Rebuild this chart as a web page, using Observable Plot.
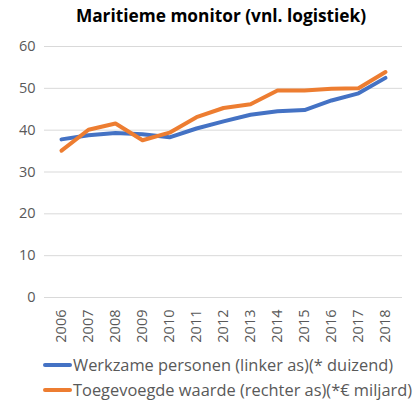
<!DOCTYPE html>
<html>
<head>
<meta charset="utf-8">
<script src="https://cdn.jsdelivr.net/npm/d3@7"></script>
<script src="https://cdn.jsdelivr.net/npm/@observablehq/plot@0.6"></script>
<style>
  html, body { margin: 0; padding: 0; background: #fff; }
  #wrap { position: relative; width: 418px; height: 401px; overflow: hidden; font-family: "Open Sans", sans-serif; }
  #title { position: absolute; top: 4px; left: 12px; width: 418px; text-align: center; font-weight: bold; font-size: 17.3px; color: #000; }
  #chart { position: absolute; top: 32px; left: 0; }
  #legend { position: absolute; top: 352px; left: 43px; font-size: 16.4px; color: #595959; }
  .row { display: flex; align-items: center; height: 25px; white-space: nowrap; }
  .sw { width: 29px; height: 4px; border-radius: 2px; margin-right: 1px; }
</style>
</head>
<body>
<div id="wrap">
  <div id="title"></div>
  <div id="chart"></div>
  <div id="legend"></div>
</div>
<script>
const titleText = "Maritieme monitor (vnl. logistiek)";
const years = ["2006","2007","2008","2009","2010","2011","2012","2013","2014","2015","2016","2017","2018"];
const yTicks = [0, 10, 20, 30, 40, 50, 60];
const seriesNames = ["Werkzame personen (linker as)(* duizend)", "Toegevoegde waarde (rechter as)(*€ miljard)"];
const seriesColors = ["#4472C4", "#ED7D31"];
const werkzame = [37.8, 38.8, 39.3, 39.0, 38.3, 40.4, 42.1, 43.7, 44.5, 44.8, 47.1, 48.8, 52.5];
const toegevoegd = [35.1, 40.1, 41.6, 37.6, 39.4, 43.1, 45.3, 46.2, 49.5, 49.5, 49.9, 50.0, 53.9];

document.getElementById("title").textContent = titleText;

const seriesValues = [werkzame, toegevoegd];

const chart = Plot.plot({
  width: 418,
  height: 315,
  marginTop: 14,
  marginLeft: 44,
  marginRight: 16,
  marginBottom: 50,
  style: { fontSize: "14.5px", fontFamily: "'Open Sans', sans-serif", color: "#595959", background: "transparent" },
  x: { type: "point", domain: years, padding: 0.5, label: null },
  y: { domain: [0, 60], label: null },
  marks: [
    Plot.gridY(yTicks, { stroke: "#d9d9d9", strokeOpacity: 1, strokeWidth: 1 }),
    Plot.axisY(yTicks, { tickSize: 0, tickPadding: 9, label: null }),
    Plot.axisX({ tickSize: 0, tickPadding: 12, tickRotate: -90, label: null }),
    ...seriesValues.map((vals, k) =>
      Plot.lineY(vals, {
        x: (d, i) => years[i],
        y: d => d,
        stroke: seriesColors[k],
        strokeWidth: 4,
        strokeLinejoin: "round",
        strokeLinecap: "round"
      })
    )
  ]
});
document.getElementById("chart").appendChild(chart);

const legend = document.getElementById("legend");
seriesNames.forEach((name, k) => {
  const row = document.createElement("div");
  row.className = "row";
  const sw = document.createElement("div");
  sw.className = "sw";
  sw.style.background = seriesColors[k];
  const t = document.createElement("span");
  t.textContent = name;
  row.appendChild(sw);
  row.appendChild(t);
  legend.appendChild(row);
});
</script>
</body>
</html>
